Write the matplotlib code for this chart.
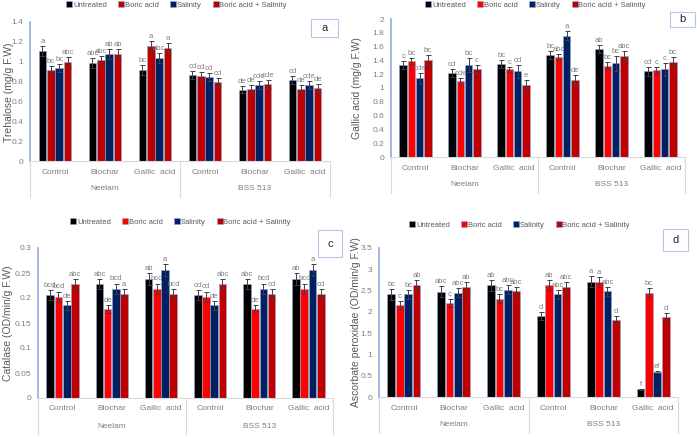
import matplotlib
matplotlib.use("Agg")
import matplotlib.pyplot as plt
from matplotlib.lines import Line2D
from matplotlib.ticker import FuncFormatter
import matplotlib.transforms as mtransforms

plt.rcParams['font.family'] = ['Liberation Sans', 'DejaVu Sans']

W, H = 697, 437

categories = ["Control", "Biochar", "Gallic  acid", "Control", "Biochar", "Gallic  acid"]
groups = ["Neelam", "BSS 513"]
series = ["Untreated", "Boric acid", "Salinity", "Boric acid + Salinity"]

# a: trehalose
treh_vals = [
    [1.11, 0.99, 0.92, 0.865, 0.72, 0.82],
    [0.92, 1.02, 1.16, 0.86, 0.73, 0.73],
    [0.935, 1.08, 1.04, 0.845, 0.77, 0.77],
    [1.00, 1.08, 1.14, 0.795, 0.78, 0.74],
]
treh_err = [
    [0.05, 0.05, 0.05, 0.04, 0.04, 0.04],
    [0.04, 0.04, 0.05, 0.04, 0.04, 0.04],
    [0.04, 0.05, 0.05, 0.04, 0.04, 0.04],
    [0.05, 0.05, 0.05, 0.04, 0.04, 0.04],
]
treh_let = [
    ["a", "abc", "bc", "cd", "de", "cd"],
    ["bc", "abc", "a", "cd", "de", "de"],
    ["bc", "ab", "abc", "cd", "cde", "cde"],
    ["abc", "ab", "a", "cd", "cde", "de"],
]

# b: gallic acid
gall_vals = [
    [1.33, 1.22, 1.345, 1.48, 1.57, 1.24],
    [1.39, 1.10, 1.27, 1.45, 1.325, 1.26],
    [1.14, 1.33, 1.24, 1.76, 1.36, 1.27],
    [1.41, 1.27, 1.04, 1.12, 1.46, 1.38],
]
gall_err = [
    [0.06, 0.06, 0.06, 0.06, 0.06, 0.06],
    [0.04, 0.05, 0.04, 0.05, 0.05, 0.05],
    [0.08, 0.10, 0.10, 0.07, 0.11, 0.09],
    [0.07, 0.07, 0.07, 0.07, 0.07, 0.07],
]
gall_let = [
    ["c", "cd", "bc", "bc", "ab", "cd"],
    ["bc", "cde", "c", "abc", "bc", "c"],
    ["cde", "bc", "cd", "a", "bc", "c"],
    ["bc", "c", "e", "de", "abc", "bc"],
]

# c: catalase
cat_vals = [
    [0.206, 0.229, 0.238, 0.206, 0.229, 0.238],
    [0.203, 0.179, 0.219, 0.203, 0.179, 0.219],
    [0.186, 0.219, 0.256, 0.186, 0.219, 0.256],
    [0.229, 0.209, 0.209, 0.229, 0.209, 0.209],
]
cat_err = [
    [0.01, 0.01, 0.012, 0.01, 0.01, 0.012],
    [0.01, 0.008, 0.01, 0.01, 0.008, 0.01],
    [0.009, 0.01, 0.012, 0.009, 0.01, 0.012],
    [0.01, 0.01, 0.009, 0.01, 0.01, 0.009],
]
cat_let = [
    ["bcd", "abc", "ab", "cd", "abc", "ab"],
    ["bcd", "de", "bcd", "cd", "de", "bcd"],
    ["de", "bcd", "a", "de", "bcd", "a"],
    ["abc", "a", "bcd", "abc", "cd", "cd"],
]

# d: ascorbate peroxidase
apx_vals = [
    [2.41, 2.47, 2.62, 1.91, 2.71, 0.18],
    [2.16, 2.21, 2.31, 2.64, 2.71, 2.45],
    [2.41, 2.45, 2.52, 2.41, 2.48, 0.58],
    [2.62, 2.58, 2.48, 2.58, 1.82, 1.89],
]
apx_err = [
    [0.13, 0.13, 0.13, 0.09, 0.13, 0.01],
    [0.10, 0.10, 0.10, 0.12, 0.12, 0.10],
    [0.11, 0.10, 0.10, 0.11, 0.10, 0.02],
    [0.12, 0.12, 0.11, 0.11, 0.08, 0.08],
]
apx_let = [
    ["bc", "abc", "ab", "d", "a", "f"],
    ["c", "c", "bc", "ab", "a", "bc"],
    ["bc", "abc", "abc", "abc", "abc", "ef"],
    ["ab", "ab", "abc", "abc", "d", "d"],
]

GRAY_TXT = "#7f7f7f"
AX_BLUE = "#8faadc"


def px_rect(x0, x1, ytop, ybot):
    return [x0 / W, 1 - ybot / H, (x1 - x0) / W, (ybot - ytop) / H]


def panel(fig, rect, vals, errs, lets, colors, ymax, ystep, ylabel, ylab_xy,
          tag, tag_box, leg_xy):
    ax = fig.add_axes(rect)
    step, width = 0.168, 0.155
    x = list(range(len(categories)))
    for s in range(4):
        pos = [i + (s - 1.5) * step for i in x]
        ax.bar(pos, vals[s], width, color=colors[s], edgecolor=AX_BLUE,
               linewidth=0.4, zorder=2)
        ax.errorbar(pos, vals[s], yerr=errs[s], fmt="none", ecolor="#404040",
                    elinewidth=0.7, capsize=1.8, capthick=0.7, zorder=3)
        for p, v, e, t in zip(pos, vals[s], errs[s], lets[s]):
            ax.annotate(t, (p, v + e), xytext=(0, 1), textcoords="offset pixels",
                        ha="center", va="bottom", fontsize=5.5, color=GRAY_TXT)
    ax.set_xlim(-0.5, 5.5)
    ax.set_ylim(0, ymax)
    n = int(round(ymax / ystep))
    ax.set_yticks([i * ystep for i in range(n + 1)])
    ax.yaxis.set_major_formatter(FuncFormatter(lambda v, p: ("%.2f" % v).rstrip("0").rstrip(".")))
    ax.tick_params(axis="y", length=0, labelsize=6, labelcolor=GRAY_TXT, pad=5)
    ax.set_xticks([])
    for side in ["top", "right"]:
        ax.spines[side].set_visible(False)
    ax.spines["left"].set_color(AX_BLUE)
    ax.spines["left"].set_linewidth(1.2)
    ax.spines["bottom"].set_color("#d9d9d9")
    ax.spines["bottom"].set_linewidth(0.8)

    # two-level category axis below the bars
    hpx = rect[3] * H
    for i, c in enumerate(categories):
        ax.annotate(c, (i, 0), xycoords=("data", "axes fraction"), xytext=(0, -11),
                    textcoords="offset pixels", ha="center", va="center",
                    fontsize=6, color=GRAY_TXT)
    for g, name in enumerate(groups):
        ax.annotate(name, (g * 3 + 1, 0), xycoords=("data", "axes fraction"),
                    xytext=(0, -28), textcoords="offset pixels", ha="center",
                    va="center", fontsize=6, color=GRAY_TXT)
    trans = mtransforms.blended_transform_factory(ax.transData, ax.transAxes)
    for xs in [-0.5, 2.5, 5.5]:
        ax.add_line(Line2D([xs, xs], [0, -36 / hpx], transform=trans,
                           color="#d9d9d9", linewidth=0.8, clip_on=False))

    fig.text(ylab_xy[0] / W, 1 - ylab_xy[1] / H, ylabel, rotation=90,
             ha="center", va="center", fontsize=7.5, color="#595959")

    bx0, by0, bx1, by1 = tag_box
    fig.patches.append(plt.Rectangle((bx0 / W, 1 - by1 / H), (bx1 - bx0) / W,
                                     (by1 - by0) / H, transform=fig.transFigure,
                                     facecolor="white", edgecolor="#b4c7e7",
                                     linewidth=0.8))
    fig.text((bx0 + bx1) / 2 / W, 1 - (by0 + by1) / 2 / H, tag, ha="center",
             va="center", fontsize=8, color="#262626")

    handles = [Line2D([], [], marker="s", linestyle="", markersize=4,
                      markerfacecolor=colors[s], markeredgecolor=AX_BLUE,
                      markeredgewidth=0.4) for s in range(4)]
    fig.legend(handles, series, loc="center", ncol=4, frameon=False,
               bbox_to_anchor=(leg_xy[0] / W, 1 - leg_xy[1] / H),
               fontsize=5.5, handlelength=0.5, handletextpad=0.25,
               columnspacing=1.6, labelcolor="#595959")
    return ax


fig = plt.figure(figsize=(W / 100, H / 100), dpi=100)

col_a = ["#000000", "#c00000", "#002060", "#c00000"]
col_b = ["#000000", "#ff0000", "#002060", "#c00000"]

panel(fig, px_rect(30, 330, 22, 161), treh_vals, treh_err, treh_let, col_a,
      1.4, 0.2, "Trehalose (mg/g F.W)", (9, 92), "a", (311, 19, 338, 37),
      (177, 5))
panel(fig, px_rect(391, 685, 19, 157), gall_vals, gall_err, gall_let, col_b,
      2.0, 0.2, "Gallic acid (mg/g F.W)", (357, 88), "b", (670, 12, 695, 27),
      (536, 5))
panel(fig, px_rect(38, 333, 248, 398), cat_vals, cat_err, cat_let, col_b,
      0.3, 0.05, "Catalase (OD/min/g F.W)", (8, 323), "c", (318, 230, 342, 257),
      (181, 222))
panel(fig, px_rect(379, 678, 248, 397), apx_vals, apx_err, apx_let, col_b,
      3.5, 0.5, "Ascorbate peroxidae (OD/min/g F.W)", (356, 322), "d",
      (663, 229, 688, 251), (520, 225))

fig.savefig("out.png", dpi=100)
